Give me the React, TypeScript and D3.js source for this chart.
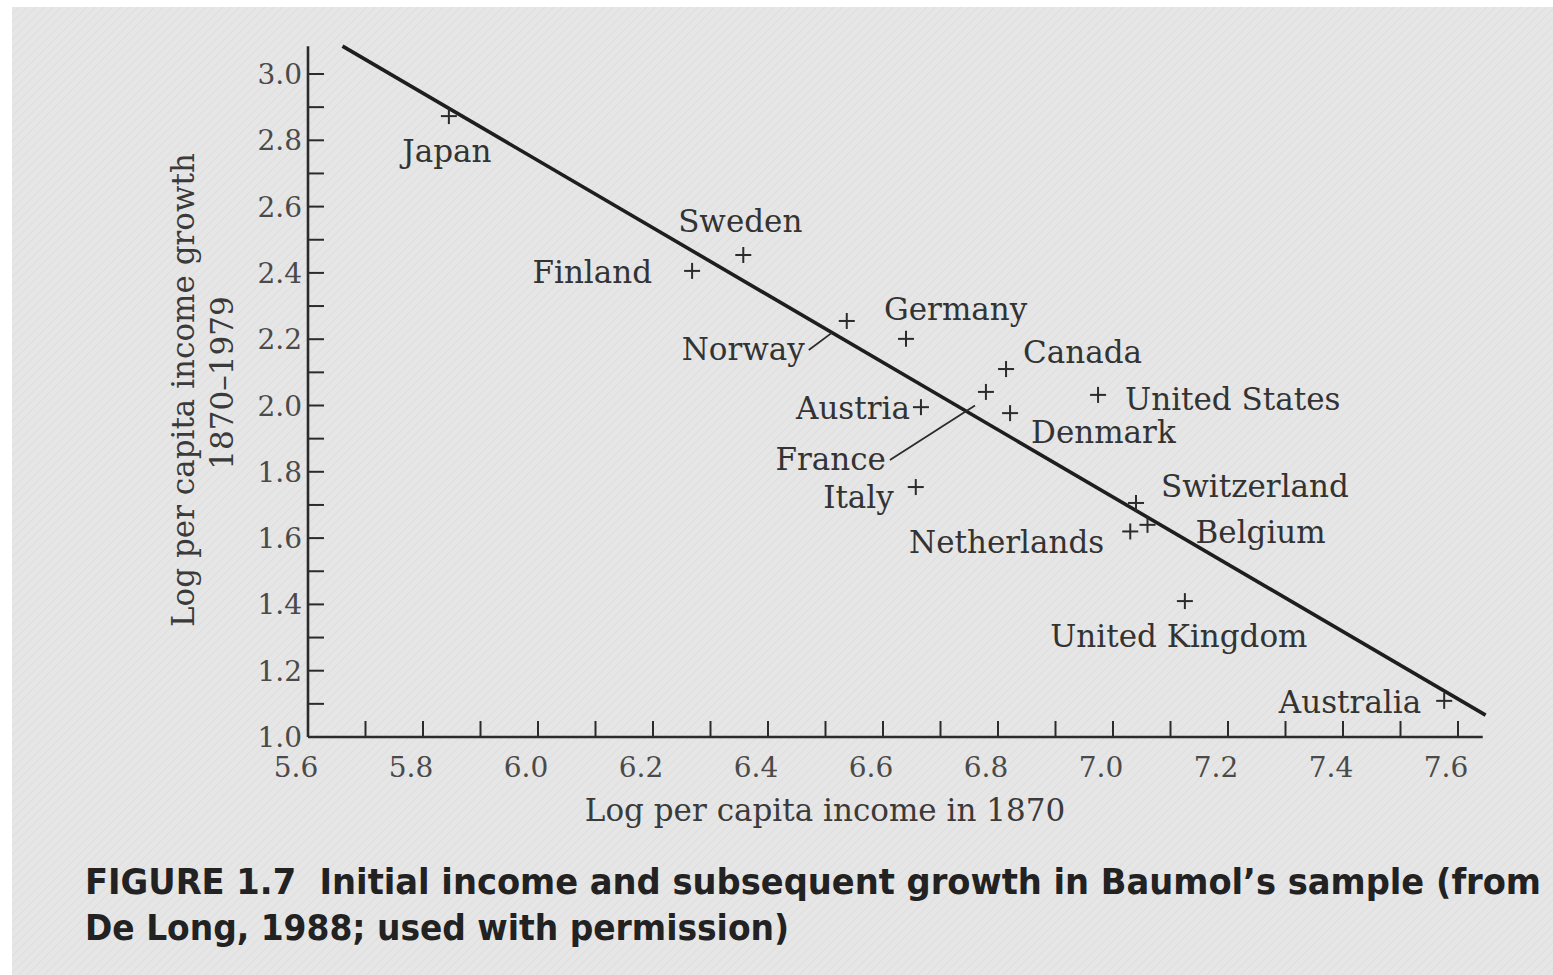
import * as d3 from 'd3'

// Baumol sample
const countries = [
  'Japan', 'Sweden', 'Finland', 'Norway', 'Germany', 'Canada', 'France', 'Denmark',
  'Austria', 'United States', 'Italy', 'Switzerland', 'Belgium', 'Netherlands',
  'United Kingdom', 'Australia',
]
const income1870 = [
  5.845, 6.357, 6.268, 6.537, 6.640, 6.814, 6.779, 6.821,
  6.666, 6.974, 6.657, 7.040, 7.060, 7.030, 7.125, 7.576,
]
const growth = [
  2.873, 2.454, 2.406, 2.255, 2.201, 2.110, 2.041, 1.977,
  1.995, 2.032, 1.754, 1.706, 1.640, 1.620, 1.410, 1.109,
]

// fitted regression line end points
const fitX = [5.66, 7.648]
const fitY = [3.084, 1.066]

const xTickLabels = ['5.6', '5.8', '6.0', '6.2', '6.4', '6.6', '6.8', '7.0', '7.2', '7.4', '7.6']
const yTickLabels = ['1.0', '1.2', '1.4', '1.6', '1.8', '2.0', '2.2', '2.4', '2.6', '2.8', '3.0']
const xMinor = d3.range(57, 77).map(d => d / 10)
const yMinor = d3.range(11, 31).map(d => d / 10)

// leader lines: label side -> point on the fit line
const leaders = [
  { country: 'Norway', x: 6.511, y: 2.219 },
  { country: 'France', x: 6.76, y: 2.0 },
]

// label placement relative to the marker (pixels)
const labelPos: Record<string, { dx: number; dy: number; anchor: string }> = {
  Japan: { dx: -2, dy: 46, anchor: 'middle' },
  Sweden: { dx: -3, dy: -23, anchor: 'middle' },
  Finland: { dx: -40, dy: 12, anchor: 'end' },
  Norway: { dx: -42, dy: 39, anchor: 'end' },
  Germany: { dx: -22, dy: -19, anchor: 'start' },
  Canada: { dx: 17, dy: -6, anchor: 'start' },
  France: { dx: -100, dy: 78, anchor: 'end' },
  Denmark: { dx: 21, dy: 30, anchor: 'start' },
  Austria: { dx: -11, dy: 12, anchor: 'end' },
  'United States': { dx: 27, dy: 15, anchor: 'start' },
  Italy: { dx: -22, dy: 21, anchor: 'end' },
  Switzerland: { dx: 25, dy: -6, anchor: 'start' },
  Belgium: { dx: 48, dy: 18, anchor: 'start' },
  Netherlands: { dx: -26, dy: 22, anchor: 'end' },
  'United Kingdom': { dx: -6, dy: 46, anchor: 'middle' },
  Australia: { dx: -23, dy: 12, anchor: 'end' },
}

const W = 1553
const H = 975
const serif = '"DejaVu Serif", serif'
const capFont = '"DejaVu Sans Condensed", "Liberation Sans Narrow", "DejaVu Sans", sans-serif'
const ink = '#2b2b2b'

export default function App() {
  const x = d3.scaleLinear().domain([5.6, 7.6]).range([308, 1458])
  const y = d3.scaleLinear().domain([1.0, 3.0]).range([737, 74])
  const xEnd = x(7.643)
  const yTop = y(3.084)
  const fit = d3.line<number>().x(d => x(fitX[d])).y(d => y(fitY[d]))

  return (
    <svg width={W} height={H} style={{ position: 'absolute', left: 0, top: 0 }}>
      <defs>
        <pattern id="grain" width="6" height="6" patternUnits="userSpaceOnUse" patternTransform="rotate(45)">
          <rect width="6" height="6" fill="#e6e6e6" />
          <line x1="0" y1="0" x2="0" y2="6" stroke="#dadada" strokeWidth="1.2" />
        </pattern>
      </defs>
      <rect width={W} height={H} fill="#ffffff" />
      <rect x={12} y={7} width={W - 12} height={H - 7} fill="url(#grain)" />

      {/* axes */}
      <line x1={x(5.6)} x2={x(5.6)} y1={yTop} y2={y(1.0)} stroke={ink} strokeWidth={2.6} />
      <line x1={x(5.6)} x2={xEnd} y1={y(1.0)} y2={y(1.0)} stroke={ink} strokeWidth={2.6} />
      {yMinor.map(v => (
        <line key={'yt' + v} x1={x(5.6)} x2={x(5.6) + 16} y1={y(v)} y2={y(v)} stroke={ink} strokeWidth={2} />
      ))}
      {xMinor.map(v => (
        <line key={'xt' + v} x1={x(v)} x2={x(v)} y1={y(1.0)} y2={y(1.0) - 16} stroke={ink} strokeWidth={2} />
      ))}
      {yTickLabels.map(t => (
        <text key={'yl' + t} x={x(5.6) - 6} y={y(+t)} dy="0.36em" textAnchor="end"
          fontFamily={serif} fontSize={28} fill="#4a4a4a">{t}</text>
      ))}
      {xTickLabels.map(t => (
        <text key={'xl' + t} x={x(+t) - 12} y={y(1.0) + 40} textAnchor="middle"
          fontFamily={serif} fontSize={28} fill="#4a4a4a">{t}</text>
      ))}

      {/* axis titles */}
      <text x={825} y={821} textAnchor="middle" fontFamily={serif} fontSize={31} fill="#3a3a3a">
        Log per capita income in 1870
      </text>
      <text transform="translate(194,390) rotate(-90)" textAnchor="middle" fontFamily={serif} fontSize={31} fill="#3a3a3a">
        Log per capita income growth
      </text>
      <text transform="translate(233,383) rotate(-90)" textAnchor="middle" fontFamily={serif} fontSize={31} fill="#3a3a3a">
        1870–1979
      </text>

      {/* regression line */}
      <path d={fit([0, 1]) ?? ''} fill="none" stroke="#1e1e1e" strokeWidth={3.6} />

      {/* leader lines */}
      {leaders.map(l => {
        const i = countries.indexOf(l.country)
        const p = labelPos[l.country]
        const lx = x(income1870[i]) + p.dx + 4
        const ly = y(growth[i]) + p.dy - 10
        return (
          <line key={'ld' + l.country} x1={lx} y1={ly} x2={x(l.x)} y2={y(l.y)} stroke={ink} strokeWidth={1.8} />
        )
      })}

      {/* markers */}
      {countries.map((c, i) => (
        <g key={'m' + c} transform={`translate(${x(income1870[i])},${y(growth[i])})`} stroke={ink} strokeWidth={2}>
          <line x1={-8} x2={8} y1={0} y2={0} />
          <line x1={0} x2={0} y1={-8} y2={8} />
        </g>
      ))}

      {/* labels */}
      {countries.map((c, i) => {
        const p = labelPos[c]
        return (
          <text key={'l' + c} x={x(income1870[i]) + p.dx} y={y(growth[i]) + p.dy} textAnchor={p.anchor}
            fontFamily={serif} fontSize={31} fill="#333">{c}</text>
        )
      })}

      {/* caption */}
      <text x={85} y={894} fontFamily={capFont} fontWeight={700} fontSize={35} fill="#222"
        textLength={1456} lengthAdjust="spacingAndGlyphs">
        FIGURE 1.7{'\u00a0\u00a0'}Initial income and subsequent growth in Baumol’s sample (from
      </text>
      <text x={85} y={940} fontFamily={capFont} fontWeight={700} fontSize={35} fill="#222"
        textLength={704} lengthAdjust="spacingAndGlyphs">
        De Long, 1988; used with permission)
      </text>
    </svg>
  )
}
